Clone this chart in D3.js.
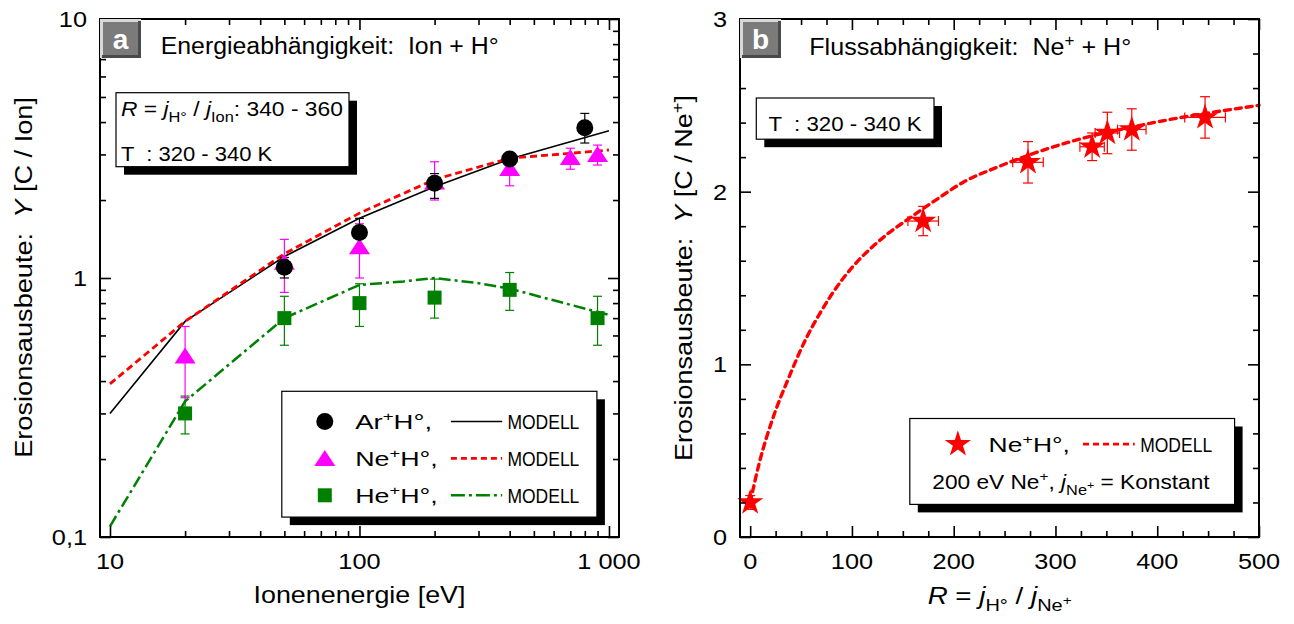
<!DOCTYPE html>
<html><head><meta charset="utf-8">
<script src="https://cdn.jsdelivr.net/npm/d3@7"></script>
<style>
html,body{margin:0;padding:0;background:#fff;}
svg{display:block;font-family:"Liberation Sans",Arial,Helvetica,sans-serif;}
</style>
</head><body>
<svg id="c" width="1294" height="624"></svg>
<script>
// ---------------- DATA ----------------
// Panel a : energy dependence
const arE  = [50, 100, 200, 400, 800];
const arY  = [1.1, 1.5, 2.32, 2.88, 3.8];
const arLo = [1.0, 1.31, 2.03, 2.78, 3.32];
const arHi = [1.2, 1.70, 2.53, 2.98, 4.32];

const neE  = [20, 50, 100, 200, 400, 700, 900];
const neY  = [0.5, 1.15, 1.32, 2.35, 2.65, 2.92, 3.0];
const neLo = [0.345, 0.88, 1.0, 2.0, 2.27, 2.63, 2.73];
const neHi = [0.65, 1.41, 1.62, 2.81, 3.0, 3.17, 3.26];

const heE  = [20, 50, 100, 200, 400, 900];
const heY  = [0.3, 0.7, 0.8, 0.84, 0.9, 0.7];
const heLo = [0.25, 0.55, 0.65, 0.7, 0.75, 0.55];
const heHi = [0.35, 0.85, 0.95, 0.99, 1.05, 0.85];

const arModE = [10, 20, 50, 100, 200, 400, 1000];
const arModY = [0.30, 0.68, 1.21, 1.70, 2.25, 2.88, 3.7];
const neModE = [10, 20, 50, 100, 200, 400, 700, 1000];
const neModY = [0.39, 0.68, 1.24, 1.78, 2.4, 2.9, 3.03, 3.12];
const heModE = [10, 20, 50, 100, 150, 200, 300, 400, 600, 1000];
const heModY = [0.11, 0.334, 0.70, 0.94, 0.97, 1.0, 0.955, 0.91, 0.82, 0.72];

const aXMajor = [10, 100, 1000];
const aXMinor = [20,30,40,50,60,70,80,90,200,300,400,500,600,700,800,900];
const aXLabels = ["10", "100", "1 000"];
const aYMajor = [0.1, 1, 10];
const aYMinor = [0.2,0.3,0.4,0.5,0.6,0.7,0.8,0.9,2,3,4,5,6,7,8,9];
const aYLabels = ["0,1", "1", "10"];

// Panel b : flux dependence
const rR    = [0, 170, 273, 336, 351, 375, 447];
const rY    = [0.2, 1.83, 2.17, 2.26, 2.34, 2.36, 2.43];
const rYerr = [0.04, 0.085, 0.12, 0.08, 0.12, 0.12, 0.12];
const rXerr = [0, 15, 15, 12, 12, 14, 20];
const modR  = [0, 9, 23, 37, 55, 69, 83, 100, 120, 136, 155, 182, 211, 242, 315, 388, 500];
const modY  = [0.2, 0.43, 0.70, 0.91, 1.15, 1.30, 1.43, 1.56, 1.68, 1.76, 1.84, 1.95, 2.06, 2.14, 2.29, 2.39, 2.50];

const bXMajor = [0, 100, 200, 300, 400, 500];
const bXMinor = d3.range(25, 500, 25).filter(v => v % 100 !== 0);
const bXLabels = ["0", "100", "200", "300", "400", "500"];
const bYMajor = [0, 1, 2, 3];
const bYMinor = [0.2,0.4,0.6,0.8,1.2,1.4,1.6,1.8,2.2,2.4,2.6,2.8];
const bYLabels = ["0", "1", "2", "3"];

// ---------------- HELPERS ----------------
const svg = d3.select('#c');
const MAG = '#ff00ff', GRN = '#008000', RED = '#ff0000';

function rich(parent, x, y, parts, size, anchor) {
  const t = parent.append('text').attr('x', x).attr('y', y).attr('font-size', size)
    .attr('text-anchor', anchor || 'start').style('white-space', 'pre').attr('fill', '#000');
  let cur = 0;
  parts.forEach(p => {
    if (typeof p === 'string') p = {t: p};
    let off = 0, fs = size;
    if (p.sup) { off = -0.4 * size; fs = 0.68 * size; }
    if (p.sub) { off = 0.3 * size; fs = 0.72 * size; }
    if (p.ss)  { off = 0.02 * size; fs = 0.55 * size; }
    const s = t.append('tspan').attr('font-size', fs).attr('dy', off - cur).text(p.t);
    if (p.i) s.attr('font-style', 'italic');
    if (p.f) s.style('font-family', p.f);
    cur = off;
  });
  return t;
}
function fitW(sel, target, ax) {
  const w = sel.node().getBBox().width;
  const k = target / w;
  sel.attr('transform', `translate(${ax},0) scale(${k},1) translate(${-ax},0)`);
}
function stretch(sel, k, ax) {
  sel.attr('transform', `translate(${ax},0) scale(${k},1) translate(${-ax},0)`);
}

function frameAxes(g, x, y, xMaj, xMin, yMaj, yMin, L, R, T, B) {
  const mk = (axis, scale, vals, size, tr) => {
    const a = g.append('g').attr('transform', tr)
      .call(axis(scale).tickValues(vals).tickSize(size).tickFormat(''));
    a.select('.domain').remove();
    a.selectAll('line').attr('stroke', '#000').attr('stroke-width', 1.6);
  };
  [[xMaj, -11], [xMin, -6]].forEach(([v, s]) => {
    mk(d3.axisBottom, x, v, s, `translate(0,${B})`);
    mk(d3.axisTop, x, v, s, `translate(0,${T})`);
  });
  [[yMaj, -11], [yMin, -6]].forEach(([v, s]) => {
    mk(d3.axisLeft, y, v, s, `translate(${L},0)`);
    mk(d3.axisRight, y, v, s, `translate(${R},0)`);
  });
  g.append('rect').attr('x', L).attr('y', T).attr('width', R - L).attr('height', B - T)
    .attr('fill', 'none').attr('stroke', '#000').attr('stroke-width', 2);
}

function labelBox(g, x0, y0, w, h, letter, by) {
  g.append('rect').attr('x', x0).attr('y', y0).attr('width', w).attr('height', h).attr('fill', '#7b7b7b');
  g.append('path').attr('d', `M${x0+1.5},${y0+h} L${x0+1.5},${y0+1.5} L${x0+w},${y0+1.5}`)
    .attr('stroke', '#d8d8d8').attr('stroke-width', 3).attr('fill', 'none');
  g.append('path').attr('d', `M${x0+w-1.5},${y0+2} L${x0+w-1.5},${y0+h-1.5} L${x0+2},${y0+h-1.5}`)
    .attr('stroke', '#4a4a4a').attr('stroke-width', 3).attr('fill', 'none');
  g.append('text').attr('x', x0 + w / 2).attr('y', by).attr('text-anchor', 'middle')
    .attr('font-size', 28).attr('font-weight', 'bold').attr('fill', '#fff').text(letter);
}

function shadowBox(g, x0, y0, x1, y1) {
  g.append('rect').attr('x', x0 + 8).attr('y', y0 + 8).attr('width', x1 - x0).attr('height', y1 - y0).attr('fill', '#000');
  g.append('rect').attr('x', x0).attr('y', y0).attr('width', x1 - x0).attr('height', y1 - y0)
    .attr('fill', '#fff').attr('stroke', '#000').attr('stroke-width', 1.2);
}

function vErr(g, x, y1, y2, color, cap) {
  g.append('line').attr('x1', x).attr('x2', x).attr('y1', y1).attr('y2', y2).attr('stroke', color).attr('stroke-width', 1.2);
  [y1, y2].forEach(yy => g.append('line').attr('x1', x - cap).attr('x2', x + cap).attr('y1', yy).attr('y2', yy)
    .attr('stroke', color).attr('stroke-width', 1.2));
}
function hErr(g, y, x1, x2, color, cap) {
  g.append('line').attr('x1', x1).attr('x2', x2).attr('y1', y).attr('y2', y).attr('stroke', color).attr('stroke-width', 1.2);
  [x1, x2].forEach(xx => g.append('line').attr('x1', xx).attr('x2', xx).attr('y1', y - cap).attr('y2', y + cap)
    .attr('stroke', color).attr('stroke-width', 1.2));
}
const triPath = (cx, cy) => `M${cx},${cy-8.5} L${cx+10.5},${cy+7.5} L${cx-10.5},${cy+7.5} Z`;
const starSym = d3.symbol(d3.symbolStar).size(215);

// ---------------- PANEL A ----------------
const A = {L: 100, R: 619, T: 19, B: 537};
const xa = d3.scaleLog().domain([9.12, 1097]).range([A.L, A.R]);
const ya = d3.scaleLog().domain([0.1, 10]).range([A.B, A.T]);
const ga = svg.append('g');

// models
const lineA = d3.line().x(d => xa(d[0])).y(d => ya(d[1]));
ga.append('path').attr('d', lineA(d3.zip(heModE, heModY))).attr('fill', 'none')
  .attr('stroke', GRN).attr('stroke-width', 2.5).attr('stroke-dasharray', '12,4,3,4');
ga.append('path').attr('d', lineA(d3.zip(arModE, arModY))).attr('fill', 'none')
  .attr('stroke', '#000').attr('stroke-width', 1.6);
ga.append('path').attr('d', lineA(d3.zip(neModE, neModY))).attr('fill', 'none')
  .attr('stroke', RED).attr('stroke-width', 2.8).attr('stroke-dasharray', '7,4');

// error bars
heE.forEach((e, i) => vErr(ga, xa(e), ya(heLo[i]), ya(heHi[i]), GRN, 4.5));
neE.forEach((e, i) => vErr(ga, xa(e), ya(neLo[i]), ya(neHi[i]), MAG, 4.5));
arE.forEach((e, i) => vErr(ga, xa(e), ya(arLo[i]), ya(arHi[i]), '#000', 4.5));
// markers
heE.forEach((e, i) => ga.append('rect').attr('x', xa(e) - 7).attr('y', ya(heY[i]) - 7)
  .attr('width', 14).attr('height', 14).attr('fill', GRN));
neE.forEach((e, i) => ga.append('path').attr('d', triPath(xa(e), ya(neY[i]))).attr('fill', MAG));
arE.forEach((e, i) => ga.append('circle').attr('cx', xa(e)).attr('cy', ya(arY[i])).attr('r', 8.5).attr('fill', '#000'));

frameAxes(ga, xa, ya, aXMajor, aXMinor, aYMajor, aYMinor, A.L, A.R, A.T, A.B);

// tick labels
aXMajor.forEach((v, i) => {
  const t = ga.append('text').attr('x', xa(v)).attr('y', 569.5).attr('text-anchor', 'middle')
    .attr('font-size', 22).text(aXLabels[i]);
  stretch(t, 1.15, xa(v));
});
aYMajor.forEach((v, i) => {
  const t = ga.append('text').attr('x', 87).attr('y', ya(v) + 8).attr('text-anchor', 'end')
    .attr('font-size', 22).text(aYLabels[i]);
  stretch(t, 1.15, 87);
});

// axis titles
const xtA = rich(ga, 359.5, 603.5, ['Ionenenergie [eV]'], 23, 'middle');
fitW(xtA, 212, 359.5);
const ytAg = ga.append('g').attr('transform', 'translate(31.7,277.4) rotate(-90)');
const ytA = rich(ytAg, 0, 0, ['Erosionsausbeute:  ', {t: 'Y', i: 1}, ' [C / Ion]'], 23, 'middle');
fitW(ytA, 361, 0);

// label box + title
labelBox(ga, A.L, A.T, 41, 39, 'a', 48.5);
const ttA = rich(ga, 160.7, 54.5, ['Energieabhängigkeit:  Ion + H°'], 23);
fitW(ttA, 338, 160.7);

// R box
shadowBox(ga, 116, 92.7, 349, 166.7);
const r1 = rich(ga, 121, 116.3, [{t: 'R', i: 1}, ' = ', {t: 'j', i: 1}, {t: 'H°', sub: 1}, ' / ', {t: 'j', i: 1}, {t: 'Ion', sub: 1}, ': 340 - 360'], 20);
fitW(r1, 222, 121);
const r2 = rich(ga, 121, 161.5, ['T  : 320 - 340 K'], 20);
fitW(r2, 152, 121);

// legend a
shadowBox(ga, 281.8, 391.3, 596.9, 517.1);
const legRows = [421.5, 458.4, 495.3];
ga.append('circle').attr('cx', 324.8).attr('cy', legRows[0]).attr('r', 8.5).attr('fill', '#000');
ga.append('path').attr('d', triPath(324.8, legRows[1])).attr('fill', MAG);
ga.append('rect').attr('x', 324.8 - 7).attr('y', legRows[2] - 7).attr('width', 14).attr('height', 14).attr('fill', GRN);
const legNames = [['Ar', 77], ['Ne', 82.6], ['He', 82.6]];
legNames.forEach(([n, w], i) => {
  const t = rich(ga, 355.2, legRows[i] + 7.5, [n, {t: '+', sup: 1}, 'H°,'], 20);
  fitW(t, w, 355.2);
  const m = ga.append('text').attr('x', 507.4).attr('y', legRows[i] + 7.5).attr('font-size', 20)
    .style('font-family', '"Liberation Sans Narrow","Arial Narrow","Liberation Sans",sans-serif').text('MODELL');
  fitW(m, 72, 507.4);
});
ga.append('line').attr('x1', 450.9).attr('x2', 502.2).attr('y1', legRows[0]).attr('y2', legRows[0])
  .attr('stroke', '#000').attr('stroke-width', 1.6);
ga.append('line').attr('x1', 450.9).attr('x2', 502.2).attr('y1', legRows[1]).attr('y2', legRows[1])
  .attr('stroke', RED).attr('stroke-width', 2.8).attr('stroke-dasharray', '6,4');
ga.append('line').attr('x1', 450.9).attr('x2', 502.2).attr('y1', legRows[2]).attr('y2', legRows[2])
  .attr('stroke', GRN).attr('stroke-width', 2.5).attr('stroke-dasharray', '14,4,3,4');

// ---------------- PANEL B ----------------
const B = {L: 740, R: 1259, T: 19, B: 537};
const xb = d3.scaleLinear().domain([-10, 500]).range([B.L, B.R]);
const yb = d3.scaleLinear().domain([0, 3]).range([B.B, B.T]);
const gb = svg.append('g');

const lineB = d3.line().x(d => xb(d[0])).y(d => yb(d[1])).curve(d3.curveMonotoneX);
gb.append('path').attr('d', lineB(d3.zip(modR, modY))).attr('fill', 'none')
  .attr('stroke', RED).attr('stroke-width', 3.4).attr('stroke-dasharray', '6,5').attr('stroke-linecap', 'round');

rR.forEach((r, i) => {
  vErr(gb, xb(r), yb(rY[i] - rYerr[i]), yb(rY[i] + rYerr[i]), RED, 5);
  if (rXerr[i] > 0) hErr(gb, yb(rY[i]), xb(r - rXerr[i]), xb(r + rXerr[i]), RED, 5);
});
rR.forEach((r, i) => gb.append('path').attr('d', starSym())
  .attr('transform', `translate(${xb(r)},${yb(rY[i])})`).attr('fill', RED));

frameAxes(gb, xb, yb, bXMajor, bXMinor, bYMajor, bYMinor, B.L, B.R, B.T, B.B);

bXMajor.forEach((v, i) => {
  const t = gb.append('text').attr('x', xb(v)).attr('y', 569.5).attr('text-anchor', 'middle')
    .attr('font-size', 22).text(bXLabels[i]);
  stretch(t, 1.15, xb(v));
});
bYMajor.forEach((v, i) => {
  const t = gb.append('text').attr('x', 727).attr('y', yb(v) + 8).attr('text-anchor', 'end')
    .attr('font-size', 22).text(bYLabels[i]);
  stretch(t, 1.15, 727);
});

const xtB = rich(gb, 999.6, 604.5, [{t: 'R', i: 1}, ' = ', {t: 'j', i: 1}, {t: 'H°', sub: 1}, ' / ', {t: 'j', i: 1}, {t: 'Ne', sub: 1}, {t: '+', ss: 1}], 23, 'middle');
fitW(xtB, 144, 999.6);
const ytBg = gb.append('g').attr('transform', 'translate(692.3,278) rotate(-90)');
const ytB = rich(ytBg, 0, 0, ['Erosionsausbeute:  ', {t: 'Y', i: 1}, ' [C / Ne', {t: '+', sup: 1}, ']'], 23, 'middle');
fitW(ytB, 366, 0);

labelBox(gb, B.L, B.T, 41, 39, 'b', 49);
const ttB = rich(gb, 809.3, 55, ['Flussabhängigkeit:  Ne', {t: '+', sup: 1}, ' + H°'], 23);
fitW(ttB, 322, 809.3);

shadowBox(gb, 756.3, 98, 934, 139.2);
const tb = rich(gb, 768.5, 130.8, ['T  : 320 - 340 K'], 20);
fitW(tb, 154, 768.5);

shadowBox(gb, 909.8, 418.5, 1234.6, 504.4);
gb.append('path').attr('d', starSym()).attr('transform', 'translate(957.9,444.2)').attr('fill', RED);
const lb1 = rich(gb, 988.6, 451.6, ['Ne', {t: '+', sup: 1}, 'H°,'], 20);
fitW(lb1, 81.4, 988.6);
gb.append('line').attr('x1', 1083).attr('x2', 1134.7).attr('y1', 444.2).attr('y2', 444.2)
  .attr('stroke', RED).attr('stroke-width', 2.8).attr('stroke-dasharray', '6,4');
const lbm = gb.append('text').attr('x', 1140.2).attr('y', 451.6).attr('font-size', 20)
  .style('font-family', '"Liberation Sans Narrow","Arial Narrow","Liberation Sans",sans-serif').text('MODELL');
fitW(lbm, 72, 1140.2);
const lb2 = rich(gb, 932.3, 488.7, ['200 eV Ne', {t: '+', sup: 1}, ', ', {t: 'j', i: 1}, {t: 'Ne', sub: 1}, {t: '+', ss: 1}, ' = Konstant'], 20);
fitW(lb2, 278, 932.3);
</script>
</body></html>
